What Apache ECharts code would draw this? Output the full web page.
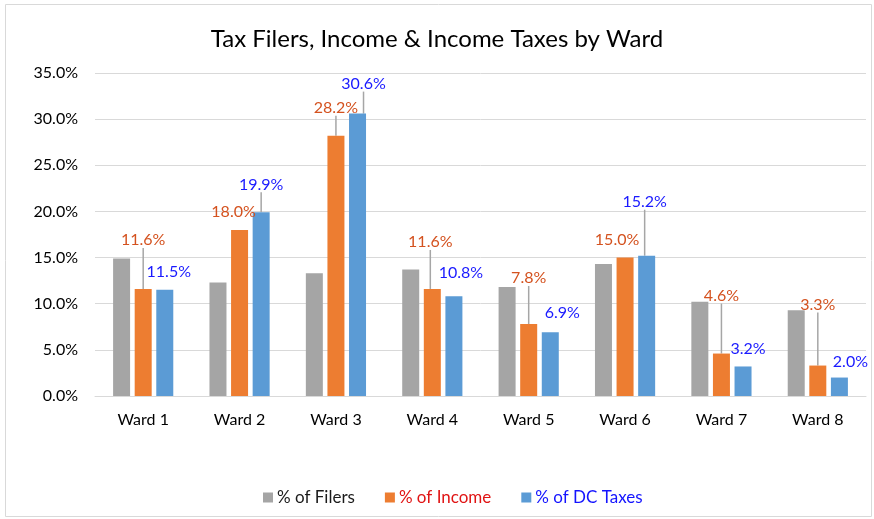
<!DOCTYPE html>
<html>
<head>
<meta charset="utf-8">
<style>
  html, body { margin: 0; padding: 0; background: #fff; }
  #chart { width: 874px; height: 519px; }
</style>
<script src="https://cdn.jsdelivr.net/npm/echarts@6/dist/echarts.min.js"></script>
</head>
<body>
<div id="chart"></div>
<script>
// data
const wards = ['Ward 1', 'Ward 2', 'Ward 3', 'Ward 4', 'Ward 5', 'Ward 6', 'Ward 7', 'Ward 8']
const filers = [14.9, 12.3, 13.3, 13.7, 11.8, 14.3, 10.2, 9.3]
const income = [11.6, 18.0, 28.2, 11.6, 7.8, 15.0, 4.6, 3.3]
const taxes = [11.5, 19.9, 30.6, 10.8, 6.9, 15.2, 3.2, 2.0]
const yMin = 0
const yMax = 35
const yStep = 5

// where the data labels were dragged to (dx, dy) and whether a leader line shows
const incomeShift = [[0, -36], [-6, -5], [0, -15], [-2, -34], [0, -33], [-8, -5], [0, -45], [0, -48]]
const taxesShift = [[4, -5], [0, -15], [6, -17], [7, -10], [12, -6], [-2, -41], [5, -5], [11, -3]]
const incomeLine = [true, false, true, true, true, false, true, true]
const taxesLine = [false, true, true, false, false, true, false, false]

const font = 'Lato, "Open Sans", sans-serif'
const pct = v => v.toFixed(1) + '%'

function withLines (values, lines) {
  return values.map((v, i) => ({ value: v, labelLine: { show: lines[i] } }))
}

const chart = echarts.init(document.getElementById('chart'))
chart.setOption({
  animation: false,
  textStyle: { fontFamily: font },
  graphic: [{
    type: 'rect',
    shape: { x: 5.5, y: 4.5, width: 866, height: 512 },
    style: { fill: 'none', stroke: '#d9d9d9', lineWidth: 1 },
    silent: true
  }],
  title: {
    text: 'Tax Filers, Income & Income Taxes by Ward',
    left: 'center',
    top: 22,
    textStyle: { fontFamily: font, fontSize: 24, fontWeight: 'normal', color: '#000' }
  },
  legend: {
    bottom: 8,
    left: 258,
    itemWidth: 10,
    itemHeight: 10,
    itemGap: 30,
    icon: 'rect',
    textStyle: { fontFamily: font, fontSize: 17, padding: [0, 0, 0, -1] },
    data: [
      { name: '% of Filers', textStyle: { color: '#1a1a1a' } },
      { name: '% of Income', textStyle: { color: '#e01414' } },
      { name: '% of DC Taxes', textStyle: { color: '#1414ff' } }
    ]
  },
  grid: { left: 95, right: 8, top: 73, bottom: 123 },
  xAxis: {
    type: 'category',
    data: wards,
    axisTick: { show: false },
    axisLine: { lineStyle: { color: '#d9d9d9' } },
    axisLabel: { fontFamily: font, fontSize: 16, color: '#000', margin: 16 }
  },
  yAxis: {
    type: 'value',
    min: yMin,
    max: yMax,
    interval: yStep,
    axisLine: { show: false },
    axisTick: { show: false },
    splitLine: { lineStyle: { color: '#d9d9d9', width: 1 } },
    axisLabel: { fontFamily: font, fontSize: 16, color: '#000', margin: 17, formatter: pct }
  },
  series: [
    {
      name: '% of Filers',
      type: 'bar',
      barWidth: 17,
      barGap: '27%',
      itemStyle: { color: '#a5a5a5' },
      data: filers
    },
    {
      name: '% of Income',
      type: 'bar',
      barWidth: 17,
      barGap: '27%',
      itemStyle: { color: '#ed7d31' },
      data: withLines(income, incomeLine),
      label: {
        show: true,
        position: 'top',
        fontFamily: font,
        fontSize: 16,
        color: '#d4521f',
        formatter: p => pct(p.value)
      },
      labelLine: { show: true, lineStyle: { color: '#a6a6a6', width: 1.5 } },
      labelLayout: p => ({ dx: incomeShift[p.dataIndex][0], dy: incomeShift[p.dataIndex][1] })
    },
    {
      name: '% of DC Taxes',
      type: 'bar',
      barWidth: 17,
      barGap: '27%',
      itemStyle: { color: '#5b9bd5' },
      data: withLines(taxes, taxesLine),
      label: {
        show: true,
        position: 'top',
        fontFamily: font,
        fontSize: 16,
        color: '#1a1aff',
        formatter: p => pct(p.value)
      },
      labelLine: { show: true, lineStyle: { color: '#a6a6a6', width: 1.5 } },
      labelLayout: p => ({ dx: taxesShift[p.dataIndex][0], dy: taxesShift[p.dataIndex][1] })
    }
  ]
})
</script>
</body>
</html>
